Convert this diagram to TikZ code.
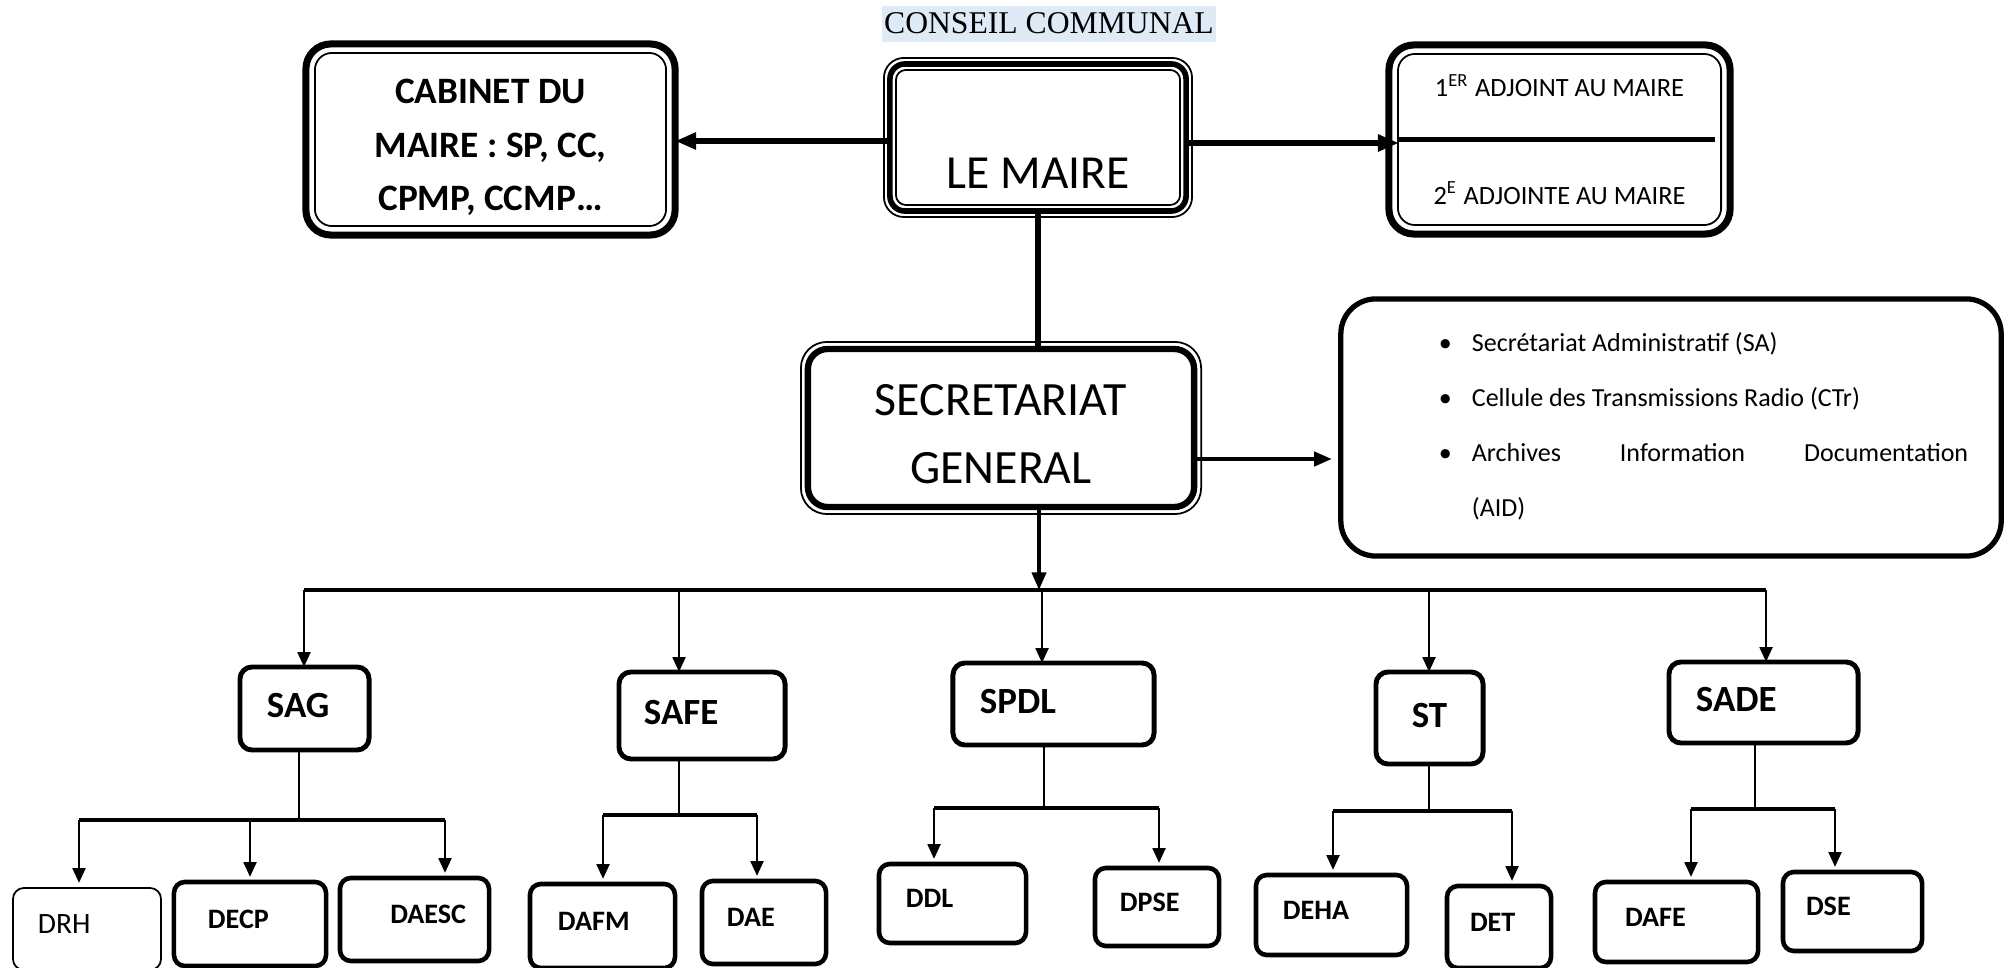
\documentclass[tikz,border=0pt]{standalone}
\usepackage{fontspec}
\setmainfont{Carlito}
\newfontfamily\timesfont{Liberation Serif}
\usetikzlibrary{arrows.meta}
\definecolor{titlebg}{RGB}{222,234,246}
\newcommand\puce[1]{\leftskip=0.65cm\hangindent=0.33cm\hangafter=1\noindent\makebox[0.33cm][l]{\textbullet}#1\par}
\tikzset{
  titre/.style={fill=titlebg, font=\timesfont\fontsize{9}{10}\selectfont, inner xsep=0.5pt, inner ysep=0pt, text height=7.9pt, text depth=2.3pt},
  bigbox/.style={draw, outer sep=0pt, rounded corners=0.15cm},
  unitbox/.style={draw, outer sep=0pt, line width=1.4pt, rounded corners=0.12cm, align=left, inner ysep=0pt, text height=0.24cm, text depth=0.06cm, font=\bfseries\fontsize{10.5}{12}\selectfont},
  dirbox/.style={draw, outer sep=0pt, line width=1.3pt, rounded corners=0.11cm, align=left, inner ysep=0pt, text height=0.18cm, text depth=0.1cm, font=\bfseries\fontsize{8}{10}\selectfont},
  thinline/.style={line width=0.5pt},
  harrow/.style={-{Triangle[length=6pt,width=4.6pt]}, line width=1.5pt},
  sgarrow/.style={-{Triangle[length=5pt,width=4pt]}, line width=1.05pt},
  arr/.style={-{Triangle[length=4.2pt,width=3.6pt]}, line width=0.8pt},
  busline/.style={line width=1.3pt},
  stem/.style={line width=0.8pt}
}
\begin{document}
\begin{tikzpicture}[x=0.01cm,y=-0.01cm]
  \useasboundingbox (0,0) rectangle (2004,968);
  \node[titre] (conseil) at (1049,24) {CONSEIL COMMUNAL};
  % haut
  \node[bigbox, line width=2pt, rounded corners=0.25cm, minimum width=3.69cm, inner ysep=0pt, text height=0.60cm, text depth=1.31cm, font=\bfseries\fontsize{10.6}{15.1}\selectfont] (cabinet) at (490.5,139.5) {\begin{tabular}[t]{@{}c@{}}CABINET DU\\MAIRE : SP, CC,\\CPMP, CCMP…\end{tabular}};
  \draw[thinline, rounded corners=0.17cm] ([shift={(0.09cm,-0.09cm)}]cabinet.north west) rectangle ([shift={(-0.09cm,0.09cm)}]cabinet.south east);
  \node[bigbox, line width=1.6pt, minimum width=2.96cm, inner ysep=0.225cm, text height=1.02cm, text depth=0cm, font=\fontsize{13.5}{16}\selectfont] (maire) at (1038,137.5) {LE MAIRE};
  \draw[thinline, rounded corners=0.2cm] ([shift={(-0.06cm,0.06cm)}]maire.north west) rectangle ([shift={(0.06cm,-0.06cm)}]maire.south east);
  \draw[thinline, rounded corners=0.1cm] ([shift={(0.06cm,-0.06cm)}]maire.north west) rectangle ([shift={(-0.06cm,0.06cm)}]maire.south east);
  \node[bigbox, line width=2pt, rounded corners=0.25cm, minimum width=3.41cm, minimum height=1.89cm, align=center, font=\fontsize{7.5}{30.7}\selectfont] (adjoint) at (1559.5,139.5) {1\textsuperscript{ER} ADJOINT AU MAIRE\\2\textsuperscript{E} ADJOINTE AU MAIRE};
  \draw[thinline, rounded corners=0.17cm] ([shift={(0.09cm,-0.09cm)}]adjoint.north west) rectangle ([shift={(-0.09cm,0.09cm)}]adjoint.south east);
  \coordinate (divl) at ([xshift=0.1cm]adjoint.west);
  \draw[line width=1.4pt] (divl) -- ([xshift=-0.15cm]adjoint.east);
  \coordinate (mw) at ([yshift=-0.035cm]maire.west);
  \coordinate (me) at ([yshift=-0.055cm]maire.east);
  \draw[harrow] (mw) -- (mw -| cabinet.east);
  \draw[harrow] (me) -- (me -| divl);
  % secretariat
  \node[bigbox, line width=1.8pt, rounded corners=0.2cm, minimum width=3.86cm, inner ysep=0pt, text height=0.665cm, text depth=0.915cm, font=\fontsize{13.6}{19.3}\selectfont] (sg) at (1001,428) {\begin{tabular}[t]{@{}c@{}}SECRETARIAT\\GENERAL\end{tabular}};
  \draw[thinline, rounded corners=0.26cm] ([shift={(-0.07cm,0.07cm)}]sg.north west) rectangle ([shift={(0.07cm,-0.07cm)}]sg.south east);
  \draw[line width=1.5pt] (maire.south) -- (maire.south |- sg.north);
  \node[bigbox, line width=1.5pt, rounded corners=0.35cm, minimum width=6.6cm, text width=5.94cm, inner xsep=0.33cm, inner ysep=0pt, text height=0.53cm, text depth=2.04cm, align=justify, font=\fontsize{7.4}{15.6}\selectfont] (list) at (1671,427.5) {\puce{Secrétariat Administratif (SA)}\puce{Cellule des Transmissions Radio (CTr)}\puce{Archives Information Documentation\linebreak (AID)}};
  \coordinate (sgr) at ([yshift=-0.31cm]sg.east);
  \draw[sgarrow, shorten >=0.09cm] (sgr) -- (sgr -| list.west);
  % services
  \coordinate (bus) at (1039,590);
  \coordinate (busl) at (304,590);
  \coordinate (busr) at (1766,590);
  \draw[sgarrow] (bus |- sg.south) -- (bus);
  \draw[busline] (busl) -- (busr);
  \node[unitbox, text width=0.75cm, inner xsep=0.27cm, minimum height=0.83cm] (sag) at (304.5,708.5) {SAG};
  \node[unitbox, text width=1.16cm, inner xsep=0.25cm, minimum height=0.87cm] (safe) at (702,715.5) {SAFE};
  \node[unitbox, text width=1.47cm, inner xsep=0.27cm, minimum height=0.82cm] (spdl) at (1053.5,704) {SPDL};
  \node[unitbox, text width=0.47cm, inner xsep=0.30cm, minimum height=0.92cm, align=center] (st) at (1429.5,718) {ST};
  \node[unitbox, text width=1.35cm, inner xsep=0.27cm, minimum height=0.81cm] (sade) at (1763.5,702.5) {SADE};
  \foreach \x/\nd in {304/sag,679/safe,1042/spdl,1429/st,1766/sade}{
    \coordinate (drop) at (\x,590);
    \draw[arr] (drop) -- (drop |- \nd.north);
  }
  % directions
  \node[dirbox, text width=0.98cm, inner xsep=0.25cm, minimum height=0.82cm, line width=0.5pt, font=\fontsize{8.4}{10}\selectfont] (drh) at (87,929) {DRH};
  \node[dirbox, text width=0.84cm, inner xsep=0.34cm, minimum height=0.84cm] (decp) at (250,924) {DECP};
  \node[dirbox, text width=1.03cm, inner xsep=0.23cm, minimum height=0.83cm, align=right] (daesc) at (414.5,919.5) {DAESC};
  \node[dirbox, text width=0.89cm, inner xsep=0.28cm, minimum height=0.84cm] (dafm) at (602.5,926) {DAFM};
  \node[dirbox, text width=0.74cm, inner xsep=0.25cm, minimum height=0.83cm] (dae) at (764,922.5) {DAE};
  \node[dirbox, text width=0.93cm, inner xsep=0.27cm, minimum height=0.79cm] (ddl) at (952.5,903.5) {DDL};
  \node[dirbox, text width=0.74cm, inner xsep=0.25cm, minimum height=0.78cm] (dpse) at (1157,907) {DPSE};
  \node[dirbox, text width=0.97cm, inner xsep=0.27cm, minimum height=0.80cm] (deha) at (1331.5,915) {DEHA};
  \node[dirbox, text width=0.58cm, inner xsep=0.23cm, minimum height=0.82cm] (det) at (1499,927) {DET};
  \node[dirbox, text width=1.03cm, inner xsep=0.30cm, minimum height=0.80cm] (dafe) at (1676.5,922) {DAFE};
  \node[dirbox, text width=0.93cm, inner xsep=0.23cm, minimum height=0.79cm] (dse) at (1852.5,911.5) {DSE};
  \foreach \p/\x/\y/\l/\r in {sag/299/820/79/445,safe/679/815/603/757,spdl/1044/808/934/1159,st/1429/811/1333/1512,sade/1755/809/1691/1835}{
    \coordinate (stm) at (\x,\y);
    \coordinate (sbl) at (\l,\y);
    \coordinate (sbr) at (\r,\y);
    \draw[stem] (stm |- \p.south) -- (stm);
    \draw[busline] (sbl) -- (sbr);
  }
  \foreach \x/\y/\nd in {79/820/drh,250/820/decp,445/820/daesc,603/815/dafm,757/815/dae,934/808/ddl,1159/808/dpse,1333/811/deha,1512/811/det,1691/809/dafe,1835/809/dse}{
    \coordinate (tip) at (\x,\y);
    \draw[arr, shorten >=0.05cm] (tip) -- (tip |- \nd.north);
  }
\end{tikzpicture}
\end{document}
